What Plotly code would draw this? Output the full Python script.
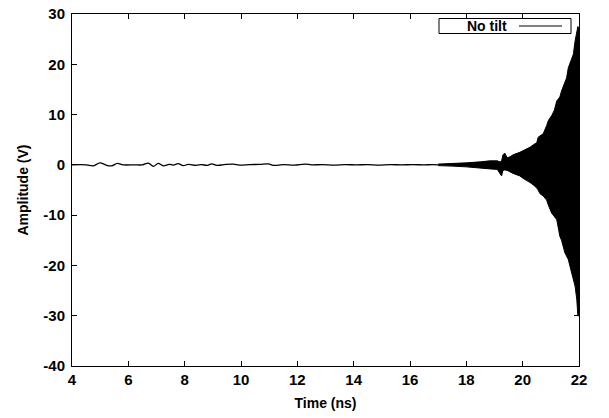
import plotly.graph_objects as go

# Quiet part of the signal, time in ns, amplitude in V
t_quiet = [4.0, 4.5, 4.76, 4.99, 5.23, 5.41, 5.61, 5.82, 6.2, 6.5, 6.71, 6.89, 7.06, 7.24, 7.45,
           7.6, 7.77, 7.95, 8.13, 8.4, 8.6, 8.8, 8.96, 9.15, 9.4, 9.73, 9.95, 10.3, 10.67, 10.97,
           11.15, 11.5, 11.9, 12.27, 12.5, 12.9, 13.3, 13.7, 14.1, 14.5, 14.9, 15.3, 15.7, 16.1,
           16.5, 16.8, 17.0]
v_quiet = [0.0, 0.0, -0.2, 0.4, -0.1, -0.2, 0.3, 0.0, 0.0, 0.0, 0.35, -0.3, 0.3, -0.2, 0.1,
           -0.05, 0.25, -0.15, 0.1, -0.1, 0.05, -0.1, 0.2, -0.1, 0.05, 0.15, -0.05, 0.05, 0.1, 0.2,
           -0.1, 0.05, -0.05, 0.15, 0.0, 0.05, -0.05, 0.05, 0.0, 0.05, -0.05, 0.05, 0.0, 0.05,
           0.0, 0.05, 0.0]

# Growing oscillation: envelope of the dense trace
t_env = [17.0, 17.5, 18.0, 18.5, 18.84, 19.1, 19.19, 19.25, 19.3, 19.37, 19.45, 19.55, 19.66,
         19.9, 20.02, 20.26, 20.38, 20.5, 20.55, 20.61, 20.73, 20.85, 20.91, 21.03, 21.12,
         21.21, 21.32, 21.38, 21.5, 21.56, 21.62, 21.74, 21.8, 21.86, 21.92, 21.96, 22.0]
env_upper = [0.15, 0.25, 0.4, 0.6, 0.8, 0.8, 0.6, 0.7, 2.0, 2.3, 1.4, 1.6, 2.0,
             2.5, 2.8, 3.5, 4.0, 4.4, 5.5, 5.7, 6.2, 7.8, 8.8, 9.8, 10.8,
             12.7, 13.5, 14.7, 16.7, 17.3, 19.3, 21.0, 22.0, 24.6, 26.9, 27.5, 27.0]
env_lower = [-0.15, -0.25, -0.4, -0.6, -0.8, -0.9, -1.7, -2.2, -1.1, -1.0, -1.1, -1.3, -1.7,
             -2.2, -2.7, -3.5, -4.0, -4.6, -5.0, -5.7, -6.2, -7.0, -8.0, -9.6, -10.3,
             -10.9, -14.2, -15.0, -17.5, -18.2, -18.8, -21.5, -22.5, -24.1, -26.7, -30.0, -30.0]

x_ticks = [4, 6, 8, 10, 12, 14, 16, 18, 20, 22]
y_ticks = [-40, -30, -20, -10, 0, 10, 20, 30]
series_name = "No tilt"

FONT = "Liberation Sans, Arial, sans-serif"

fig = go.Figure()
fig.add_trace(go.Scatter(
    x=t_quiet, y=v_quiet, mode="lines",
    line=dict(color="black", width=1.3, shape="spline", smoothing=1.0),
    showlegend=False, hoverinfo="skip"))
fig.add_trace(go.Scatter(
    x=t_env + t_env[::-1], y=env_upper + env_lower[::-1],
    mode="lines", fill="toself", fillcolor="black",
    line=dict(color="black", width=1), showlegend=False, hoverinfo="skip"))

axis_common = dict(
    showline=True, linecolor="black", linewidth=1, mirror="ticks",
    ticks="inside", ticklen=5, tickcolor="black", tickwidth=1,
    showgrid=False, zeroline=False, automargin=False,
    tickfont=dict(family=FONT, size=15, color="black", weight="bold"),
)

fig.update_xaxes(range=[4, 22], tickvals=x_ticks, ticktext=[str(v) for v in x_ticks],
                 title=dict(text="Time (ns)", font=dict(family=FONT, size=14, color="black", weight="bold"),
                            standoff=11),
                 **axis_common)
fig.update_yaxes(range=[-40, 30], tickvals=y_ticks, ticktext=[str(v) for v in y_ticks],
                 title=dict(text="Amplitude (V)", font=dict(family=FONT, size=14, color="black", weight="bold"),
                            standoff=11),
                 ticklabelstandoff=3,
                 **axis_common)

L, R, T, B = 72, 579, 14, 366
W, H = R - L, B - T


def px_x(p):
    return (p - L) / W


def px_y(p):
    return (B - p) / H


# Custom legend box: text then line sample
fig.add_shape(type="rect", xref="paper", yref="paper",
              x0=px_x(439), x1=px_x(571), y0=px_y(33.5), y1=px_y(18.5),
              line=dict(color="black", width=1), fillcolor="white")
fig.add_annotation(xref="paper", yref="paper", x=px_x(509), y=px_y(26),
                   xanchor="right", yanchor="middle", text=series_name, showarrow=False,
                   font=dict(family=FONT, size=14, color="black", weight="bold"))
fig.add_shape(type="line", xref="paper", yref="paper",
              x0=px_x(519), x1=px_x(562), y0=px_y(26), y1=px_y(26),
              line=dict(color="black", width=1))

fig.update_layout(
    width=609, height=418,
    margin=dict(l=L, r=609 - R, t=T, b=418 - B),
    paper_bgcolor="white", plot_bgcolor="white",
    font=dict(family=FONT, color="black"),
    showlegend=False,
)

fig.write_html("out.html", config={"displayModeBar": False},
               post_script="document.body.style.margin='0px';document.body.style.overflow='hidden';")
